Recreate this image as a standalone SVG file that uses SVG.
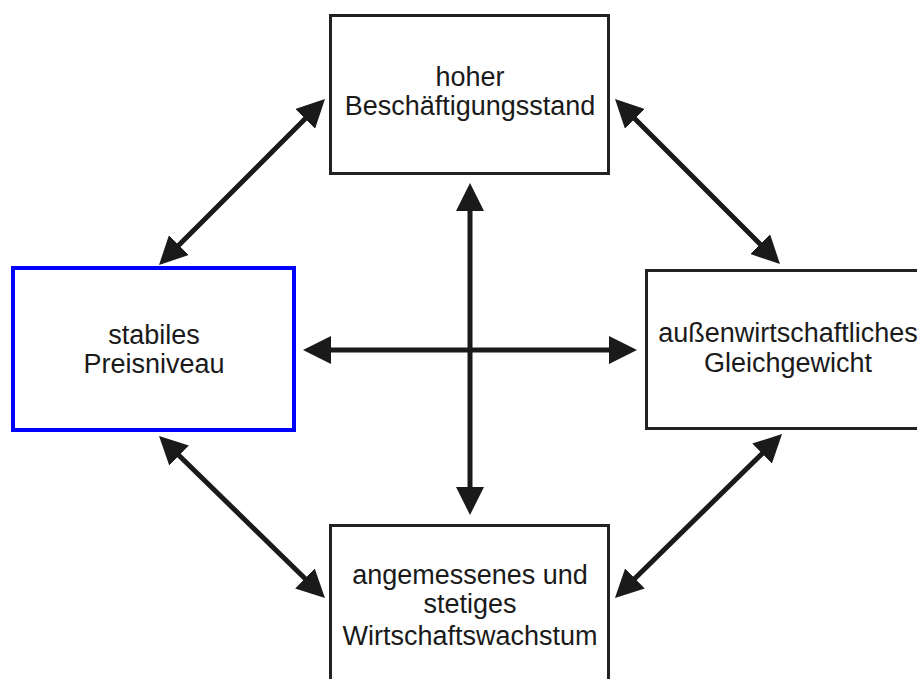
<svg xmlns="http://www.w3.org/2000/svg" width="917" height="679" viewBox="0 0 917 679">
<style>
.box{fill:#fff;stroke:#222;stroke-width:3}
.blue{fill:#fff;stroke:#0000ff;stroke-width:4}
.lbl{font-family:"Liberation Sans",Arial,sans-serif;font-size:27px;fill:#1a1a1a;text-anchor:middle}
.conn{stroke:#1a1a1a;stroke-width:5;fill:none;marker-start:url(#ah);marker-end:url(#ah)}
</style>
<defs>
<marker id="ah" viewBox="0 0 28 28" refX="18" refY="14" markerWidth="28" markerHeight="28" markerUnits="userSpaceOnUse" orient="auto-start-reverse">
<path d="M0,0 L28,14 L0,28 z" fill="#1a1a1a"/>
</marker>
</defs>
<rect width="917" height="679" fill="#fff"/>
<g id="connectors">
<line class="conn" x1="166.1" y1="257.9" x2="317.9" y2="106.1"/>
<line class="conn" x1="622.1" y1="106.1" x2="772.9" y2="256.9"/>
<line class="conn" x1="166.2" y1="443" x2="317.8" y2="591"/>
<line class="conn" x1="774.9" y1="441" x2="622.1" y2="591"/>
<line class="conn" x1="313" y1="350" x2="627" y2="350"/>
<line class="conn" x1="470" y1="193" x2="470" y2="505"/>
</g>
<g id="beschaeftigung">
<rect class="box" x="330.5" y="15.5" width="278" height="158"/>
<text class="lbl" x="470" y="86">hoher</text>
<text class="lbl" x="470" y="115">Beschäftigungsstand</text>
</g>
<g id="preisniveau">
<rect class="blue" x="13" y="268" width="281" height="162"/>
<text class="lbl" x="154" y="344">stabiles</text>
<text class="lbl" x="154" y="373">Preisniveau</text>
</g>
<g id="gleichgewicht">
<rect class="box" x="646.5" y="270.5" width="290" height="158"/>
<text class="lbl" x="788" y="342">außenwirtschaftliches</text>
<text class="lbl" x="788" y="372">Gleichgewicht</text>
</g>
<g id="wachstum">
<rect class="box" x="330.5" y="525.5" width="278" height="170"/>
<text class="lbl" x="470" y="584">angemessenes und</text>
<text class="lbl" x="470" y="613">stetiges</text>
<text class="lbl" x="470" y="645">Wirtschaftswachstum</text>
</g>
</svg>
